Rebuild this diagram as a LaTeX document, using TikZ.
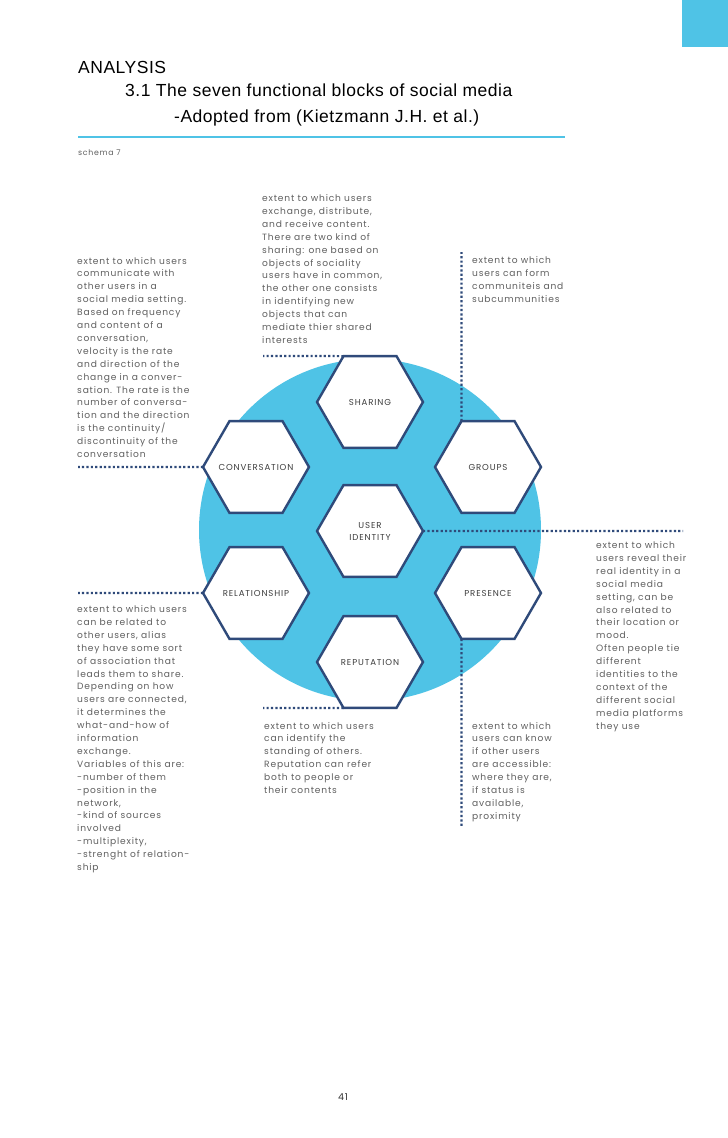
\documentclass[tikz,border=0pt]{standalone}
\usepackage{fontspec}
\usetikzlibrary{shapes.geometric}
\setmainfont{Poppins}
\newfontfamily\headfont[LetterSpace=3]{Liberation Sans}
\newfontfamily\bodyfont[LetterSpace=9]{Poppins}
\newfontfamily\hexfont[LetterSpace=10]{Poppins}
\newcommand\hexlbl[1]{\makebox[0pt][c]{#1}}
\definecolor{cyanbg}{HTML}{4FC3E6}
\definecolor{navy}{HTML}{2F4A7A}
\definecolor{bodygray}{HTML}{606060}
\definecolor{hexgray}{HTML}{3E3E3E}
\tikzset{
  hexbox/.style={regular polygon, regular polygon sides=6, minimum size=106pt, inner sep=0pt, outer sep=0pt,
    draw=navy, line width=2.4pt, fill=white, font=\hexfont\fontsize{8.6}{12}\selectfont, text=hexgray, align=center},
  desc/.style={anchor=base west, inner sep=0pt, align=left, font=\bodyfont\fontsize{9.1}{12.9}\selectfont, text=bodygray},
  dots/.style={draw=navy, line width=2.2pt, dash pattern=on 2.2pt off 2.2pt},
  headtxt/.style={anchor=base west, inner sep=0pt, font=\headfont\fontsize{17.5}{19}\selectfont},
}
\begin{document}
\begin{tikzpicture}[x=1pt,y=-1pt]
\useasboundingbox (0,0) rectangle (728,1138);
\fill[white] (0,0) rectangle (728,1138);
\fill[cyanbg] (682,0) rectangle (728,47);
% header
\node[headtxt] (title) at (78,73) {ANALYSIS};
\node[headtxt] (sub1) at (125,96.5) {3.1 The seven functional blocks of social media};
\node[headtxt] (sub2) at (174,122) {-Adopted from (Kietzmann J.H. et al.)};
\draw[cyanbg, line width=1.2pt] (78,137) -- (565,137);
\node[anchor=base west, inner sep=0pt, font=\bodyfont\fontsize{7.8}{9}\selectfont, text=bodygray] (schema) at (78,155) {schema 7};
% circle
\fill[cyanbg] (370,530) circle (171);
% hexagons
\node[hexbox] (sharing) at (370,402) {\hexlbl{SHARING}};
\node[hexbox] (conv) at (256,467) {\hexlbl{CONVERSATION}};
\node[hexbox] (groups) at (488,467) {\hexlbl{GROUPS}};
\node[hexbox] (user) at (370,531) {USER\\IDENTITY};
\node[hexbox] (rel) at (256,593) {\hexlbl{RELATIONSHIP}};
\node[hexbox] (pres) at (488,593) {\hexlbl{PRESENCE}};
\node[hexbox] (rep) at (370,662) {\hexlbl{REPUTATION}};
% connector ends
\coordinate (shE) at (263,356);
\coordinate (cvE) at (78,467);
\coordinate (grE) at (461.5,252);
\coordinate (uiE) at (683,531);
\coordinate (rlE) at (78,593);
\coordinate (rpE) at (263,708);
\coordinate (prE) at (461.5,826);
\draw[dots] (sharing.120) -- (shE);
\draw[dots] (conv.180) -- (cvE);
\draw[dots] (groups.120) -- (grE);
\draw[dots] (user.0) -- (uiE);
\draw[dots] (rel.180) -- (rlE);
\draw[dots] (rep.240) -- (rpE);
\draw[dots] (pres.240) -- (prE);
% descriptions (anchored at the baseline of the last line)
\node[desc] (tSharing) at (262,343.4) {extent to which users\\exchange, distribute,\\and receive content.\\There are two kind of\\sharing: one based on\\objects of sociality\\users have in common,\\the other one consists\\in identifying new\\objects that can\\mediate thier shared\\interests};
\node[desc] (tConv) at (77,457.5) {extent to which users\\communicate with\\other users in a\\social media setting.\\Based on frequency\\and content of a\\conversation,\\velocity is the rate\\and direction of the\\change in a conver-\\sation. The rate is the\\number of conversa-\\tion and the direction\\is the continuity/\\discontinuity of the\\conversation};
\node[desc] (tGroups) at (472,302.2) {extent to which\\users can form\\communiteis and\\subcummunities};
\node[desc] (tUser) at (596,729.1) {extent to which\\users reveal their\\real identity in a\\social media\\setting, can be\\also related to\\their location or\\mood.\\Often people tie\\different\\identities to the\\context of the\\different social\\media platforms\\they use};
\node[desc] (tRel) at (77,870.5) {extent to which users\\can be related to\\other users, alias\\they have some sort\\of association that\\leads them to share.\\Depending on how\\users are connected,\\it determines the\\what-and-how of\\information\\exchange.\\Variables of this are:\\-number of them\\-position in the\\network,\\-kind of sources\\involved\\-multiplexity,\\-strenght of relation-\\ship};
\node[desc] (tRep) at (264,793.5) {extent to which users\\can identify the\\standing of others.\\Reputation can refer\\both to people or\\their contents};
\node[desc] (tPres) at (472,819.3) {extent to which\\users can know\\if other users\\are accessible:\\where they are,\\if status is\\available,\\proximity};
\node[anchor=base, inner sep=0pt, font=\bodyfont\fontsize{9.5}{11}\selectfont, text=black!80] (page) at (343,1100) {41};
\end{tikzpicture}
\end{document}
